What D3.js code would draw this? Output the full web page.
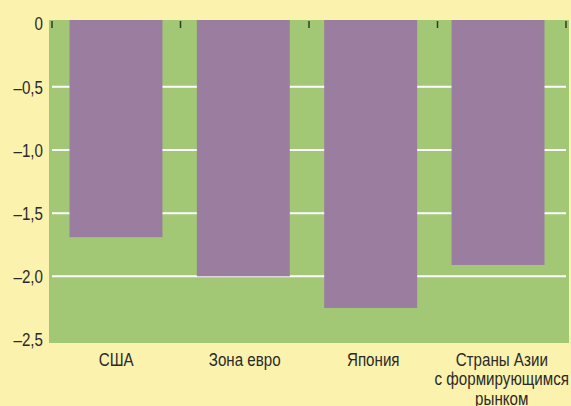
<!DOCTYPE html>
<html><head><meta charset="utf-8">
<script src="https://cdn.jsdelivr.net/npm/d3@7"></script>
<style>
html,body{margin:0;padding:0;background:#FBF2AD;}
svg{display:block;}
</style></head>
<body>
<svg id="chart" width="571" height="406"></svg>
<script>
const categories = ["США", "Зона евро", "Япония", "Страны Азии\nс формирующимся\nрынком"];
const values = [-1.69, -2.0, -2.25, -1.91];
const yTicks = [0, -0.5, -1.0, -1.5, -2.0, -2.5];
const yTickLabels = ["0", "–0,5", "–1,0", "–1,5", "–2,0", "–2,5"];
const gridValues = [-0.5, -1.0, -1.5, -2.0];

const W = 571, H = 406;
const plot = {left: 49, right: 569, top: 20, bottom: 343};
const svg = d3.select("#chart");

// font detection: prefer a real narrow face, else condense Liberation Sans
function textWidth(fam) {
  const t = svg.append("text").attr("font-family", fam).attr("font-size", 20).text("Зона евро формирующимся");
  const w = t.node().getComputedTextLength(); t.remove(); return w;
}
const wNarrow = textWidth("'Liberation Sans Narrow', monospace");
const wReg = textWidth("'Liberation Sans', Arial, sans-serif");
const hasNarrow = wNarrow < wReg * 0.9;
const fontFam = hasNarrow ? "'Liberation Sans Narrow', 'Arial Narrow', sans-serif" : "'Liberation Sans', Arial, sans-serif";
const sx = hasNarrow ? 1 : 0.82;
const fontSize = 18.5;
const textColor = "#2a2a2a";

svg.append("rect").attr("x", 0).attr("y", 0).attr("width", W).attr("height", H).attr("fill", "#FBF2AD");
svg.append("rect").attr("x", plot.left).attr("y", plot.top)
  .attr("width", plot.right - plot.left).attr("height", plot.bottom - plot.top).attr("fill", "#A2C876");

const y = d3.scaleLinear().domain([0, -2.5]).range([23.7, 339.5]);
const xTicksScale = d3.scaleBand().domain(categories).range([52, 566]).padding(0);
const xBars = d3.scaleBand().domain(categories).range([52.3, 561.7]).paddingInner(0.27).paddingOuter(0.135);

// grid
svg.append("g").selectAll("line").data(gridValues).join("line")
  .attr("x1", 52).attr("x2", 566)
  .attr("y1", d => y(d)).attr("y2", d => y(d))
  .attr("stroke", "#ffffff").attr("stroke-width", 2);

// bars
svg.append("g").selectAll("rect").data(categories).join("rect")
  .attr("x", d => xBars(d))
  .attr("width", xBars.bandwidth())
  .attr("y", plot.top)
  .attr("height", (d, i) => y(values[i]) - plot.top)
  .attr("fill", "#9B7D9F");

// top ticks at band boundaries
const bounds = categories.map(c => xTicksScale(c)).concat([xTicksScale.range()[1]]);
svg.append("g").selectAll("line").data(bounds).join("line")
  .attr("x1", d => d).attr("x2", d => d)
  .attr("y1", 21).attr("y2", 28)
  .attr("stroke", "#333a2c").attr("stroke-width", 1.5);

// y labels
svg.append("g").selectAll("text").data(yTicks).join("text")
  .attr("transform", d => `translate(43,${y(d)}) scale(${sx},1)`)
  .attr("dy", "0.36em")
  .attr("text-anchor", "end")
  .attr("font-family", fontFam).attr("font-size", fontSize).attr("fill", textColor)
  .text((d, i) => yTickLabels[i]);

// x labels
const xl = svg.append("g").selectAll("text").data(categories).join("text")
  .attr("transform", d => `translate(${xTicksScale(d) + xTicksScale.bandwidth() / 2},365.5) scale(${sx},1)`)
  .attr("text-anchor", "middle")
  .attr("font-family", fontFam).attr("font-size", fontSize).attr("fill", textColor);
xl.each(function(d) {
  const lines = d.split("\n");
  d3.select(this).selectAll("tspan").data(lines).join("tspan")
    .attr("x", 0).attr("y", (l, i) => i * 19.8).text(l => l);
});
</script>
</body></html>
